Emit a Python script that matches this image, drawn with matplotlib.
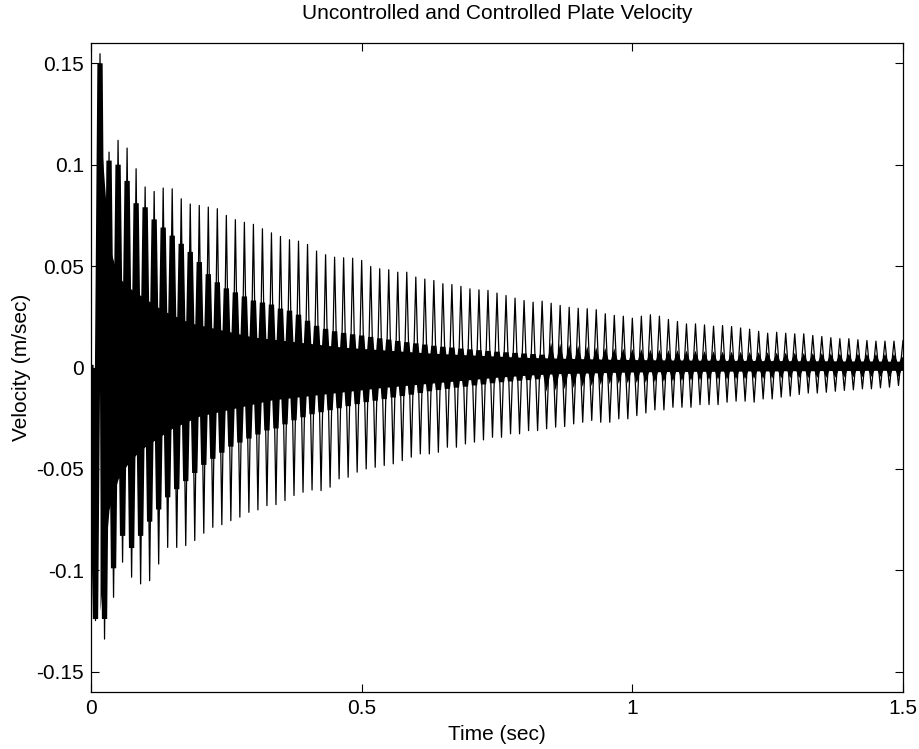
import numpy as np
import matplotlib
matplotlib.use("Agg")
import matplotlib.pyplot as plt

plt.rcParams['font.family'] = ['Liberation Sans', 'DejaVu Sans']

# ---- data (per 60 Hz cycle) ----
# cycle index: peaks at k/60 s (k=1..90), troughs at (j+0.5)/60 s (j=0..89)
cycle_rate = 60.0
peak_index = list(range(1, 91))
trough_index = list(range(0, 90))

# Uncontrolled plate velocity: positive peaks and negative troughs
unc_peaks = [0.1547, 0.1062, 0.1120, 0.1082, 0.0980, 0.0890, 0.0868, 0.0885, 0.0881, 0.0832,
             0.0806, 0.0799, 0.0791, 0.0783, 0.0750, 0.0729, 0.0716, 0.0706, 0.0684, 0.0664,
             0.0646, 0.0630, 0.0623, 0.0607, 0.0574, 0.0556, 0.0544, 0.0541, 0.0539, 0.0528,
             0.0498, 0.0487, 0.0482, 0.0470, 0.0470, 0.0446, 0.0436, 0.0429, 0.0413, 0.0409,
             0.0400, 0.0388, 0.0383, 0.0380, 0.0367, 0.0355, 0.0342, 0.0330, 0.0322, 0.0327,
             0.0317, 0.0306, 0.0297, 0.0292, 0.0290, 0.0285, 0.0265, 0.0257, 0.0253, 0.0243,
             0.0253, 0.0260, 0.0253, 0.0237, 0.0227, 0.0215, 0.0215, 0.0210, 0.0204, 0.0207,
             0.0202, 0.0195, 0.0189, 0.0178, 0.0169, 0.0174, 0.0169, 0.0166, 0.0166, 0.0158,
             0.0153, 0.0147, 0.0142, 0.0142, 0.0137, 0.0133, 0.0130, 0.0130, 0.0130, 0.0133]
unc_troughs = [-0.1248, -0.1339, -0.1133, -0.0960, -0.1034, -0.1067, -0.1051, -0.0969, -0.0887, -0.0887,
               -0.0878, -0.0853, -0.0817, -0.0788, -0.0775, -0.0755, -0.0738, -0.0714, -0.0702, -0.0681,
               -0.0676, -0.0656, -0.0631, -0.0615, -0.0604, -0.0607, -0.0590, -0.0549, -0.0541, -0.0516,
               -0.0500, -0.0492, -0.0483, -0.0475, -0.0459, -0.0442, -0.0426, -0.0426, -0.0418, -0.0393,
               -0.0393, -0.0377, -0.0368, -0.0357, -0.0344, -0.0344, -0.0327, -0.0327, -0.0311, -0.0311,
               -0.0302, -0.0294, -0.0291, -0.0278, -0.0270, -0.0261, -0.0270, -0.0270, -0.0253, -0.0253,
               -0.0237, -0.0224, -0.0209, -0.0209, -0.0196, -0.0196, -0.0196, -0.0183, -0.0183, -0.0183,
               -0.0171, -0.0166, -0.0166, -0.0171, -0.0155, -0.0155, -0.0146, -0.0141, -0.0133, -0.0126,
               -0.0126, -0.0122, -0.0117, -0.0113, -0.0110, -0.0105, -0.0105, -0.0100, -0.0097, -0.0089]

# Controlled plate velocity: per-cycle positive / negative excursions
ctrl_peaks = [0.150, 0.102, 0.100, 0.092, 0.081, 0.079, 0.073, 0.069, 0.065, 0.061,
              0.057, 0.052, 0.046, 0.042, 0.039, 0.037, 0.035, 0.033, 0.032, 0.031,
              0.029, 0.028, 0.026, 0.023, 0.0205, 0.019, 0.0178, 0.017, 0.0163, 0.0157,
              0.015, 0.0143, 0.0137, 0.013, 0.0124, 0.0118, 0.0112, 0.0106, 0.0101, 0.0097,
              0.0092, 0.0088, 0.0084, 0.008, 0.0076, 0.0073, 0.007, 0.0067, 0.0064, 0.0061,
              0.0058, 0.0056, 0.0054, 0.0052, 0.005, 0.0048, 0.0047, 0.0046, 0.0046, 0.0045,
              0.0045, 0.0044, 0.0044, 0.0043, 0.0043, 0.0042, 0.0042, 0.0041, 0.0041, 0.0040,
              0.0040, 0.0040, 0.0039, 0.0039, 0.0039, 0.0038, 0.0038, 0.0038, 0.0037, 0.0037,
              0.0037, 0.0036, 0.0036, 0.0036, 0.0036, 0.0035, 0.0035, 0.0035, 0.0035, 0.0035]
ctrl_troughs = [-0.124, -0.124, -0.099, -0.083, -0.089, -0.083, -0.076, -0.070, -0.064, -0.060,
                -0.056, -0.052, -0.048, -0.045, -0.042, -0.039, -0.037, -0.035, -0.033, -0.031,
                -0.030, -0.028, -0.026, -0.0245, -0.023, -0.022, -0.021, -0.020, -0.019, -0.018,
                -0.017, -0.0163, -0.0155, -0.0147, -0.014, -0.0133, -0.0125, -0.0116, -0.011, -0.0104,
                -0.0098, -0.0093, -0.0087, -0.0082, -0.0076, -0.0071, -0.0067, -0.0063, -0.006, -0.0056,
                -0.0053, -0.005, -0.0047, -0.0044, -0.0041, -0.0039, -0.0036, -0.0034, -0.0033, -0.0032,
                -0.0031, -0.003, -0.0029, -0.0028, -0.0027, -0.0026, -0.0025, -0.0024, -0.0023, -0.0022,
                -0.0022, -0.0021, -0.0021, -0.002, -0.002, -0.0019, -0.0019, -0.0018, -0.0018, -0.0018,
                -0.0017, -0.0017, -0.0017, -0.0016, -0.0016, -0.0016, -0.0015, -0.0015, -0.0015, -0.0015]
# solid core of the controlled trace (upper / lower edge at each peak time)
ctrl_core_hi = [0.120, 0.060, 0.045, 0.040, 0.037, 0.034, 0.031, 0.028, 0.026, 0.024,
                0.022, 0.021, 0.020, 0.019, 0.018, 0.017, 0.016, 0.015, 0.0145, 0.014,
                0.0135, 0.013, 0.0125, 0.012, 0.0115, 0.011, 0.0105, 0.010, 0.0097, 0.0094,
                0.0091, 0.0088, 0.0085, 0.0082, 0.0079, 0.0076, 0.0073, 0.007, 0.0068, 0.0066,
                0.0064, 0.0062, 0.006, 0.0058, 0.0056, 0.0054, 0.0052, 0.005, 0.0049, 0.0048,
                0.0047, 0.0046, 0.0045, 0.0044, 0.0043, 0.0042, 0.0041, 0.004, 0.004, 0.0039,
                0.0039, 0.0038, 0.0038, 0.0037, 0.0037, 0.0037, 0.0036, 0.0036, 0.0036, 0.0035,
                0.0035, 0.0035, 0.0035, 0.0034, 0.0034, 0.0034, 0.0034, 0.0033, 0.0033, 0.0033,
                0.0033, 0.0033, 0.0032, 0.0032, 0.0032, 0.0032, 0.0032, 0.0031, 0.0031, 0.0031]
ctrl_core_lo = [-0.120, -0.070, -0.055, -0.048, -0.043, -0.039, -0.036, -0.033, -0.030, -0.028,
                -0.026, -0.024, -0.023, -0.022, -0.021, -0.020, -0.019, -0.018, -0.017, -0.016,
                -0.0155, -0.015, -0.0145, -0.014, -0.0135, -0.013, -0.0125, -0.012, -0.0115, -0.011,
                -0.0105, -0.010, -0.0096, -0.0092, -0.0088, -0.0084, -0.008, -0.0076, -0.0072, -0.0068,
                -0.0064, -0.006, -0.0056, -0.0052, -0.0048, -0.0045, -0.0042, -0.0039, -0.0036, -0.0034,
                -0.0032, -0.003, -0.0029, -0.0028, -0.0027, -0.0026, -0.0025, -0.0024, -0.0023, -0.0022,
                -0.0022, -0.0021, -0.0021, -0.002, -0.002, -0.002, -0.0019, -0.0019, -0.0019, -0.0018,
                -0.0018, -0.0018, -0.0017, -0.0017, -0.0017, -0.0017, -0.0016, -0.0016, -0.0016, -0.0016,
                -0.0015, -0.0015, -0.0015, -0.0015, -0.0015, -0.0014, -0.0014, -0.0014, -0.0014, -0.0014]

x_ticks = [0, 0.5, 1, 1.5]
x_ticklabels = ['0', '0.5', '1', '1.5']
y_ticks = [-0.15, -0.1, -0.05, 0, 0.05, 0.1, 0.15]
y_ticklabels = ['-0.15', '-0.1', '-0.05', '0', '0.05', '0.1', '0.15']

# ---- build the traces (alternating trough / peak samples) ----
t_pk = np.array(peak_index) / cycle_rate
t_tr = (np.array(trough_index) + 0.5) / cycle_rate
t_all = np.concatenate([[0.0], np.column_stack([t_tr, t_pk]).ravel()])
unc = np.concatenate([[0.0], np.column_stack([unc_troughs, unc_peaks]).ravel()])
ctrl = np.concatenate([[0.0], np.column_stack([ctrl_troughs, ctrl_peaks]).ravel()])

fig = plt.figure(figsize=(9.2, 7.49), dpi=100)
ax = fig.add_axes([91 / 920, 1 - 692 / 749, (903 - 91) / 920, (692 - 43) / 749])

ax.fill_between(t_pk, ctrl_core_lo, ctrl_core_hi, color='black', linewidth=0)
ax.fill_between(t_all, ctrl, 0, color='black', linewidth=0)
ax.plot(t_all, ctrl, color='black', linewidth=3.8, solid_joinstyle='miter')
ax.plot(t_all, unc, color='black', linewidth=0.9)

ax.set_xlim(0, 1.5)
ax.set_ylim(-0.16, 0.16)
ax.set_xticks(x_ticks)
ax.set_xticklabels(x_ticklabels)
ax.set_yticks(y_ticks)
ax.set_yticklabels(y_ticklabels)
ax.tick_params(direction='in', top=True, right=True, length=6, width=0.8,
               labelsize=15, pad=5)
for s in ax.spines.values():
    s.set_linewidth(0.9)

ax.set_title('Uncontrolled and Controlled Plate Velocity', fontsize=15, pad=17)
ax.set_xlabel('Time (sec)', fontsize=15, labelpad=5)
ax.set_ylabel('Velocity (m/sec)', fontsize=15, labelpad=4)

fig.savefig('out.png', dpi=100)
